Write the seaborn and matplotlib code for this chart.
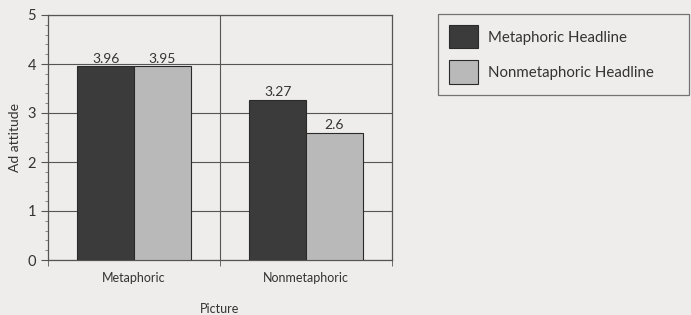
import numpy as np
import pandas as pd
import matplotlib
matplotlib.use("Agg")
import matplotlib.pyplot as plt
from matplotlib.ticker import MultipleLocator, FixedLocator
import seaborn as sns

pictures = ["Metaphoric", "Nonmetaphoric"]
headlines = ["Metaphoric Headline", "Nonmetaphoric Headline"]
metaphoric_headline = [3.96, 3.27]
nonmetaphoric_headline = [3.95, 2.6]

df = pd.DataFrame({
    "Picture": pictures * 2,
    "Headline": [headlines[0]] * 2 + [headlines[1]] * 2,
    "Ad attitude": metaphoric_headline + nonmetaphoric_headline,
})

sns.set_style("white")
plt.rcParams["font.family"] = ["Lato", "DejaVu Sans"]
bg = "#eeedeb"
dark = "#3b3b3b"
light = "#b9b9b9"

fig = plt.figure(figsize=(6.91, 3.15), dpi=100, facecolor=bg)
ax = fig.add_axes([48 / 691, 55 / 315, 344 / 691, 245 / 315], facecolor=bg)

sns.barplot(data=df, x="Picture", y="Ad attitude", hue="Headline",
            palette=[dark, light], width=0.66, edgecolor="#2a2a2a",
            linewidth=0.8, saturation=1, ax=ax, zorder=3)

for cont in ax.containers:
    ax.bar_label(cont, labels=[f"{v:g}" for v in cont.datavalues],
                 padding=1, fontsize=10, color="#333333")

ax.set_ylim(0, 5)
ax.set_xlim(-0.5, 1.5)
ax.yaxis.set_major_locator(MultipleLocator(1))
ax.yaxis.set_minor_locator(MultipleLocator(0.2))
ax.xaxis.set_major_locator(FixedLocator([0, 1]))
ax.xaxis.set_minor_locator(FixedLocator([-0.5, 0.5, 1.5]))
ax.tick_params(axis="x", which="major", length=0, labelsize=9,
               labelcolor="#333333", pad=9)
ax.tick_params(axis="x", which="minor", length=4, color="#555555", bottom=True)
ax.tick_params(axis="y", which="major", length=5, color="#555555", left=True,
               labelsize=10.5, labelcolor="#333333")
ax.tick_params(axis="y", which="minor", length=2.5, color="#777777", left=True)

ax.grid(True, axis="y", which="major", color="#555555", linewidth=0.8, zorder=0)
ax.axvline(0.5, color="#555555", linewidth=0.8, zorder=0)
for s in ax.spines.values():
    s.set_color("#555555")
    s.set_linewidth(0.9)

ax.set_ylabel("Ad attitude", fontsize=10, color="#333333", labelpad=5)
ax.set_xlabel("Picture", fontsize=9, color="#333333", labelpad=13)

handles, labels = ax.get_legend_handles_labels()
ax.legend_.remove()
fig.legend(handles, labels, loc="upper left", mode="expand",
           bbox_to_anchor=(438 / 691, 1 - 97 / 315, 251 / 691, 83 / 315),
           fontsize=10.8, frameon=True, fancybox=False, edgecolor="#555555",
           facecolor=bg, handlelength=1.9, handleheight=2.0,
           handletextpad=0.7, borderpad=0.75, labelspacing=0.8,
           borderaxespad=0)
for t in fig.legends[0].get_texts():
    t.set_color("#333333")
fig.legends[0].get_frame().set_linewidth(0.9)

fig.savefig("out.png", dpi=100, facecolor=bg)
